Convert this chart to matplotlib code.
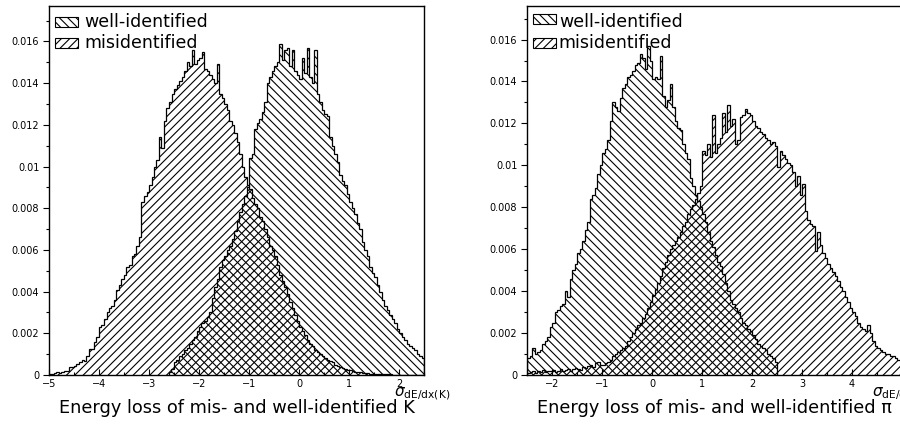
import matplotlib.pyplot as plt
import numpy as np
from matplotlib.patches import Rectangle
from matplotlib.ticker import MultipleLocator, FuncFormatter

# histogram contents in units of 1e-4, bin width 0.05
BIN_WIDTH = 0.05

k_well_start = -2.6
k_well = [
    1.4, 3,
    6, 7, 9, 10, 12, 13, 15, 17, 18, 21,
    23, 25, 26, 28, 30, 37, 42, 46, 52, 55,
    57, 60, 62, 65, 69, 74, 78, 82, 86, 90,
    104, 106, 118, 121, 123, 126, 131, 140, 143, 146,
    148, 150, 159, 151, 156, 157, 148, 156, 146, 144,
    142, 152, 145, 157, 143, 140, 156, 135, 131, 127,
    125, 124, 114, 110, 106, 102, 96, 93, 91, 87,
    83, 80, 77, 73, 70, 64, 60, 57, 52, 49,
    47, 43, 40, 36, 33, 31, 29, 27, 25, 22,
    20, 18, 17, 15, 14, 13, 12, 10, 9, 8,
]

k_mis_start = -5.0
k_mis = [
    0.4, 0.6, 0.9, 1.2, 1.0, 1.6, 1.8, 1.8, 3.8, 4.0,
    4.5, 5.4, 6, 7, 6.5, 9, 12.6, 12.6, 16, 18,
    23, 24, 27, 30, 32, 33, 36, 41, 43, 46,
    48, 52, 53, 57, 58, 62, 66, 83, 86, 88,
    91, 95, 100, 103, 114, 109, 122, 128, 131, 135,
    137, 139, 141, 143, 146, 150, 148, 156, 149, 151,
    152, 155, 147, 146, 144, 142, 140, 149, 135, 133,
    130, 127, 122, 120, 116, 112, 106, 100, 95, 91,
    89, 85, 82, 80, 76, 74, 70, 66, 62, 60,
    57, 53, 48, 45, 42, 39, 35, 32, 29, 26,
    23, 21, 19, 17, 15, 14, 12, 11, 10, 9,
    8, 7, 6.5, 6, 5, 4.5, 4, 3.5, 3, 2.6,
    2.2, 2, 1.6, 1.4, 1.2, 1, 0.9, 0.8, 0.7, 0.6,
    0.5, 0.5, 0.4, 0.4, 0.3, 0.3, 0.3, 0.2, 0.2, 0.2,
    0.2, 0.1, 0.1, 0.1, 0.1, 0.1, 0.1, 0.1, 0.1, 0.1,
]

pi_well_start = -2.5
pi_well = [
    8, 9, 13, 10, 11, 12, 15, 16, 18, 23,
    25, 30, 31, 33, 34, 40, 37, 46, 50, 53,
    58, 60, 64, 69, 73, 84, 86, 89, 96, 100,
    106, 108, 112, 121, 130, 128, 126, 132, 137, 139,
    142, 143, 145, 148, 149, 153, 151, 146, 157, 150,
    141, 142, 141, 152, 133, 128, 131, 139, 128, 121,
    118, 117, 110, 106, 103, 94, 90, 86, 83, 80,
    77, 73, 68, 64, 61, 57, 54, 52, 48, 44,
    40, 36, 34, 32, 30, 27, 25, 24, 22, 21,
    19, 17, 15, 14, 13, 12, 10, 9, 8, 6,
]

pi_mis_start = -2.5
pi_mis = [
    1, 1.5, 2, 1, 2, 1.5, 2.5, 1.5, 2, 2,
    2.5, 1.5, 2, 3, 2, 2.5, 3, 2, 3, 3.5,
    3, 2.5, 4, 3.5, 4.5, 5, 4, 5.5, 6, 5,
    5, 5.5, 6, 7, 9, 10, 11, 12, 13, 14,
    16, 18, 20, 22, 24, 25, 27, 29, 32, 35,
    38, 41, 44, 47, 51, 54, 57, 60, 62, 64,
    66, 68, 71, 73, 77, 79, 81, 84, 87, 90,
    107, 105, 110, 104, 124, 106, 110, 113, 125, 116,
    129, 119, 122, 110, 112, 123, 124, 127, 125, 124,
    121, 119, 118, 116, 115, 113, 112, 110, 111, 109,
    99, 107, 105, 103, 101, 100, 97, 90, 95, 86,
    91, 78, 74, 72, 71, 59, 68, 62, 58, 56,
    53, 51, 49, 47, 45, 42, 40, 37, 35, 32,
    30, 28, 25, 23, 22, 21, 24, 20, 16, 14,
    13, 12, 11, 10, 10, 9, 9, 8, 7, 7,
]

legend_labels = ["well-identified", "misidentified"]
title_k = "Energy loss of mis- and well-identified K"
title_pi = "Energy loss of mis- and well-identified \u03c0"

plt.rcParams['hatch.linewidth'] = 0.8
WELL_HATCH = "\\\\\\\\"
MIS_HATCH = "////"


def draw_hist(ax, start, values, hatch):
    vals = np.asarray(values) * 1e-4
    edges = start + BIN_WIDTH * np.arange(len(vals) + 1)
    ax.stairs(vals, edges, fill=True, facecolor="none", edgecolor="black",
              hatch=hatch, lw=0.9)


def setup_panel(ax, xlim, ylim, title, sublabel, leg_rows, text_x):
    ax.set_xlim(*xlim)
    ax.set_ylim(0, ylim)
    ax.xaxis.set_major_locator(MultipleLocator(1))
    ax.xaxis.set_minor_locator(MultipleLocator(0.5))
    ax.yaxis.set_major_locator(MultipleLocator(0.002))
    ax.yaxis.set_minor_locator(MultipleLocator(0.001))
    ax.yaxis.set_major_formatter(FuncFormatter(lambda v, p: "0" if abs(v) < 1e-9 else f"{v:g}"))
    ax.tick_params(axis="y", which="major", direction="out", length=4, width=0.8, pad=3, labelsize=7)
    ax.tick_params(axis="y", which="minor", direction="out", length=2, width=0.8)
    ax.tick_params(axis="x", which="major", direction="in", length=4, width=0.8, pad=3, labelsize=7)
    ax.tick_params(axis="x", which="minor", direction="in", length=2, width=0.8)
    for sp in ax.spines.values():
        sp.set_linewidth(1.0)

    for (yb, hatch), label, yt in zip(leg_rows, legend_labels, [0.957, 0.900]):
        ax.add_patch(Rectangle((0.016, yb), 0.062, 0.027, transform=ax.transAxes,
                               facecolor="none", edgecolor="black", hatch=hatch,
                               lw=0.8, clip_on=False))
        ax.text(text_x, yt, label, transform=ax.transAxes, fontsize=12.5,
                va="center", ha="left")

    ax.text(1.069, -0.028, sublabel, transform=ax.transAxes, fontsize=11,
            ha="right", va="top", clip_on=False)
    ax.text(0.5, -0.089, title, transform=ax.transAxes, fontsize=12.8,
            ha="center", va="center")


fig = plt.figure(figsize=(9, 4.24), dpi=100)
ax1 = fig.add_axes([49 / 900, 49 / 424, 375 / 900, 369 / 424])
ax2 = fig.add_axes([527 / 900, 49 / 424, 375 / 900, 369 / 424])

draw_hist(ax1, k_well_start, k_well, WELL_HATCH)
draw_hist(ax1, k_mis_start, k_mis, MIS_HATCH)
setup_panel(ax1, (-5, 2.5), 0.0177, title_k, r"$\sigma_{\mathrm{dE/dx(K)}}$",
            [(0.943, WELL_HATCH), (0.886, MIS_HATCH)], 0.093)

draw_hist(ax2, pi_well_start, pi_well, WELL_HATCH)
draw_hist(ax2, pi_mis_start, pi_mis, MIS_HATCH)
setup_panel(ax2, (-2.5, 5), 0.0176, title_pi, r"$\sigma_{\mathrm{dE/dx(\pi)}}$",
            [(0.951, WELL_HATCH), (0.886, MIS_HATCH)], 0.085)

fig.savefig("out.png", dpi=100)
